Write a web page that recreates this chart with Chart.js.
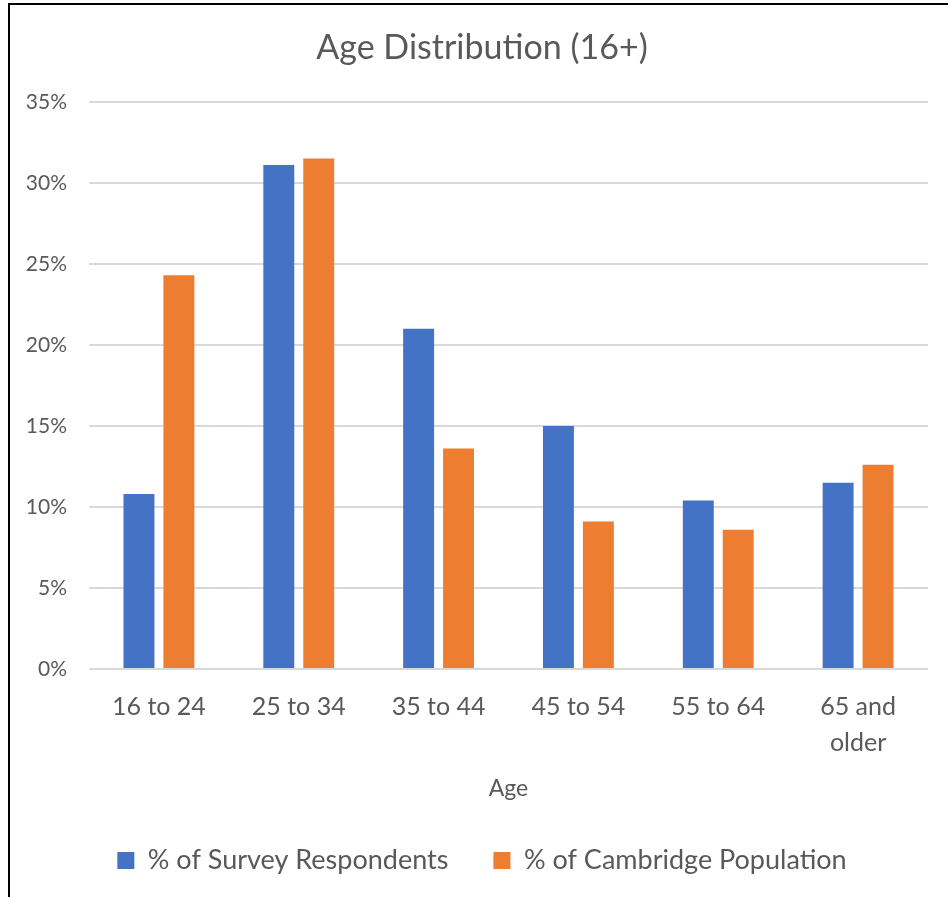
<!DOCTYPE html>
<html>
<head>
<meta charset="utf-8">
<script src="https://cdn.jsdelivr.net/npm/chart.js@4"></script>
<style>
  html, body { margin: 0; padding: 0; background: #fff; }
  #wrap { position: relative; width: 948px; height: 897px; }
  #frame { position: absolute; left: 8px; top: 3px; width: 1000px; height: 1000px;
           border-left: 2px solid #000; border-top: 2px solid #000; pointer-events: none; }
</style>
</head>
<body>
<div id="wrap">
  <canvas id="ageChart" width="948" height="897"></canvas>
  <div id="frame"></div>
</div>
<script>
const ageGroups = ['16 to 24', '25 to 34', '35 to 44', '45 to 54', '55 to 64', ['65 and', 'older']];
const surveyRespondents = [10.8, 31.1, 21.0, 15.0, 10.4, 11.5];
const cambridgePopulation = [24.3, 31.5, 13.6, 9.1, 8.6, 12.6];
const yTicks = [0, 5, 10, 15, 20, 25, 30, 35];

const grey = '#595959';
Chart.defaults.font.family = 'Lato, "Open Sans", sans-serif';
Chart.defaults.color = grey;

var ctx = document.getElementById('ageChart').getContext('2d');
var ageChart = new Chart(ctx, {
    type: 'bar',
    data: {
        labels: ageGroups,
        datasets: [{
            label: '% of Survey Respondents',
            data: surveyRespondents,
            backgroundColor: '#4472C4'
        }, {
            label: '% of Cambridge Population',
            data: cambridgePopulation,
            backgroundColor: '#ED7D31'
        }]
    },
    options: {
        responsive: false,
        animation: false,
        categoryPercentage: 0.571,
        barPercentage: 0.775,
        layout: {
            padding: { left: 22, right: 6, top: 12, bottom: 13 }
        },
        plugins: {
            title: {
                display: true,
                text: 'Age Distribution (16+)',
                font: { size: 34, weight: 'normal' },
                color: grey,
                padding: { top: 16, bottom: 33 }
            },
            legend: {
                position: 'bottom',
                labels: {
                    boxWidth: 17,
                    boxHeight: 17,
                    padding: 45,
                    font: { size: 27 },
                    color: grey
                }
            },
            tooltip: { enabled: false }
        },
        scales: {
            x: {
                grid: { display: false },
                border: { display: false },
                afterFit: function(axis) {
                    axis.height = 133;
                },
                ticks: { font: { size: 25, lineHeight: 1.45 }, color: grey, padding: 12, maxRotation: 0 },
                title: {
                    display: true,
                    text: 'Age',
                    font: { size: 23 },
                    color: grey,
                    padding: { top: 0, bottom: 0 }
                }
            },
            y: {
                min: yTicks[0],
                max: yTicks[yTicks.length - 1],
                afterBuildTicks: function(axis) {
                    axis.ticks = yTicks.map(v => ({ value: v }));
                },
                afterFit: function(axis) {
                    axis.width = 67;
                },
                grid: { color: '#d9d9d9', lineWidth: 2, drawTicks: false },
                border: { display: false },
                ticks: {
                    font: { size: 21 },
                    color: grey,
                    padding: 22,
                    callback: function(value) { return value + '%'; }
                }
            },
            // empty right-hand axis, only keeps a small margin right of the plot
            yRight: {
                position: 'right',
                display: true,
                grid: { display: false },
                border: { display: false },
                ticks: { display: false },
                afterFit: function(axis) {
                    axis.width = 14;
                }
            }
        }
    }
});
</script>
</body>
</html>
